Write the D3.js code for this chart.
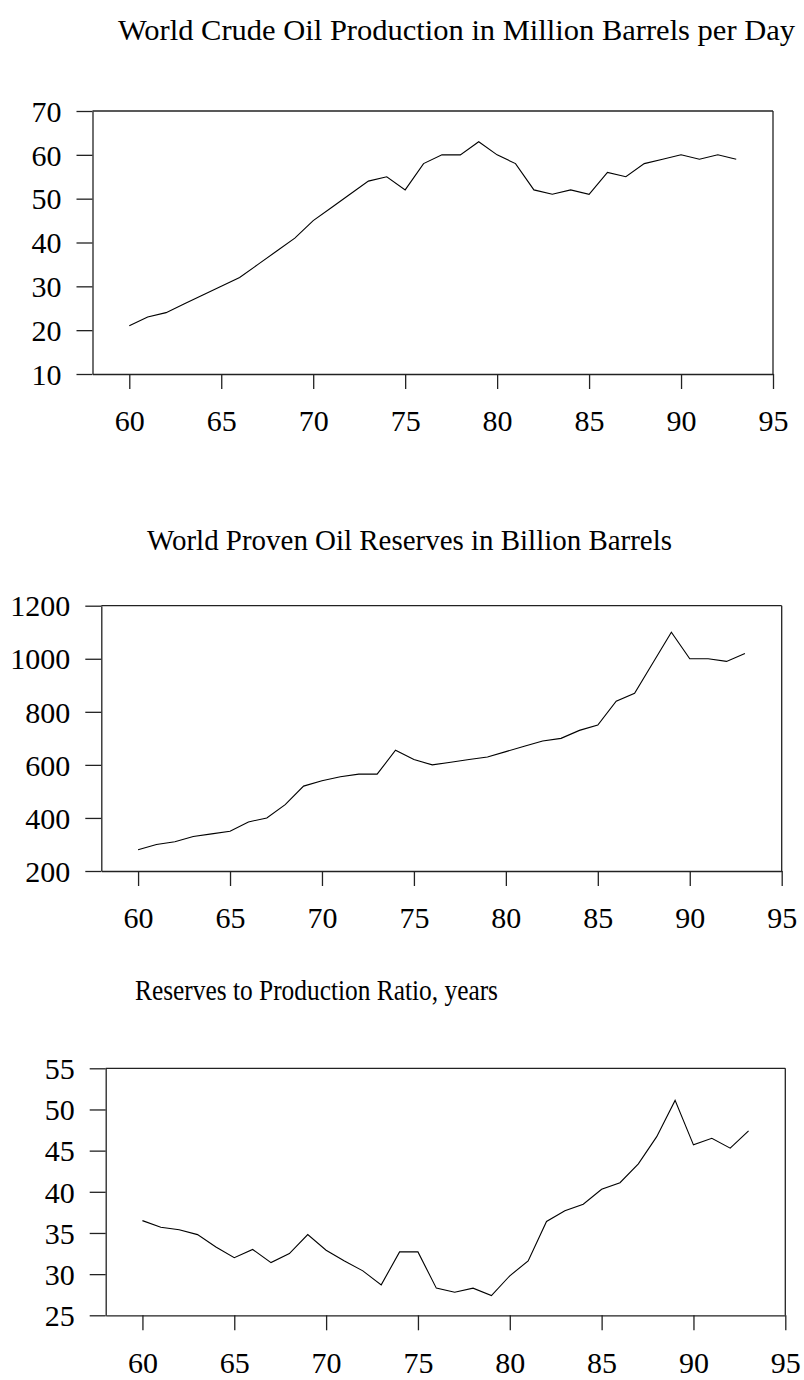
<!DOCTYPE html>
<html>
<head>
<meta charset="utf-8">
<script src="https://cdn.jsdelivr.net/npm/d3@7"></script>
<style>
  html, body { margin: 0; padding: 0; background: #fff; }
  svg { display: block; }
  text { font-family: "Liberation Serif", "Times New Roman", serif; fill: #000; }
</style>
</head>
<body>
<svg id="chart" width="804" height="1380"></svg>
<script>
// Years 1960–1993
const years = d3.range(60, 94);

// World crude oil production, million barrels per day
const production = [21, 23, 24, 26, 28, 30, 32, 35, 38, 41, 45, 48, 51, 54, 55, 52, 58, 60, 60, 63,
                    60, 58, 52, 51, 52, 51, 56, 55, 58, 59, 60, 59, 60, 59];

// World proven oil reserves, billion barrels
const reserves = [280, 300, 310, 330, 340, 350, 385, 400, 450, 520, 540, 555, 565, 565, 655, 620, 600, 610, 620, 630,
                  650, 670, 690, 700, 730, 750, 840, 870, 985, 1100, 1000, 1000, 990, 1020];

// Reserves-to-production ratio, years
const ratio = [36.5, 35.7, 35.4, 34.8, 33.3, 32.0, 33.0, 31.4, 32.5, 34.8, 32.9, 31.6, 30.4, 28.7, 32.7, 32.7, 28.3, 27.8, 28.3, 27.4,
               29.8, 31.6, 36.4, 37.7, 38.5, 40.3, 41.1, 43.4, 46.7, 51.1, 45.7, 46.5, 45.3, 47.4];

// Axis ticks
const xTicks = [60, 65, 70, 75, 80, 85, 90, 95];
const prodTicks = [10, 20, 30, 40, 50, 60, 70];
const resTicks = [200, 400, 600, 800, 1000, 1200];
const ratioTicks = [25, 30, 35, 40, 45, 50, 55];

// Titles
const titles = [
  "World Crude Oil Production in Million Barrels per Day",
  "World Proven Oil Reserves in Billion Barrels",
  "Reserves to Production Ratio, years"
];

const svg = d3.select("#chart");
const FONT = 30;

function panel(cfg) {
  const g = svg.append("g");
  const x = d3.scaleLinear().domain([58, 95]).range([cfg.left, cfg.right]);
  const y = d3.scaleLinear().domain(cfg.yDomain).range([cfg.bottom, cfg.top]);

  g.append("text")
    .attr("x", cfg.titleX).attr("y", cfg.titleY)
    .attr("font-size", 29)
    .attr("textLength", cfg.titleWidth)
    .attr("lengthAdjust", "spacingAndGlyphs")
    .text(cfg.title);

  // frame: top and right edges
  g.append("line")
    .attr("x1", cfg.left).attr("x2", cfg.right)
    .attr("y1", cfg.top).attr("y2", cfg.top)
    .attr("stroke", "#222").attr("stroke-width", 1.3);
  g.append("line")
    .attr("x1", cfg.right).attr("x2", cfg.right)
    .attr("y1", cfg.top).attr("y2", cfg.bottom)
    .attr("stroke", "#222").attr("stroke-width", 1.3);

  const yAxis = g.append("g")
    .attr("transform", `translate(${cfg.left},0)`)
    .call(d3.axisLeft(y).tickValues(cfg.yTicks).tickSize(16).tickSizeOuter(0).tickPadding(15).tickFormat(d3.format("d")));

  const xAxis = g.append("g")
    .attr("transform", `translate(0,${cfg.bottom})`)
    .call(d3.axisBottom(x).tickValues(xTicks).tickSize(15).tickSizeOuter(0).tickPadding(21).tickFormat(d3.format("d")));

  [yAxis, xAxis].forEach(a => {
    a.selectAll(".domain").attr("stroke", "#222").attr("stroke-width", 1.3);
    a.selectAll(".tick line").attr("stroke", "#222").attr("stroke-width", 1.3);
    a.selectAll(".tick text")
      .attr("font-family", "Liberation Serif, Times New Roman, serif")
      .attr("font-size", FONT).attr("fill", "#000");
  });
  yAxis.selectAll(".tick text").attr("dy", "0.34em");

  // data line
  const line = d3.line().x((d, i) => x(years[i])).y(d => y(d));
  g.append("path")
    .datum(cfg.values)
    .attr("fill", "none")
    .attr("stroke", "#000")
    .attr("stroke-width", 1.1)
    .attr("stroke-linejoin", "miter")
    .attr("d", line);
}

panel({ title: titles[0], titleX: 118, titleY: 40, titleWidth: 677,
        left: 92.5, right: 773, top: 111, bottom: 374,
        yDomain: [10, 70], yTicks: prodTicks, values: production });

panel({ title: titles[1], titleX: 147, titleY: 550, titleWidth: 525,
        left: 101.3, right: 781.7, top: 605.7, bottom: 871,
        yDomain: [200, 1200], yTicks: resTicks, values: reserves });

panel({ title: titles[2], titleX: 135, titleY: 1000, titleWidth: 363,
        left: 105.7, right: 785.3, top: 1068.3, bottom: 1315.3,
        yDomain: [25, 55], yTicks: ratioTicks, values: ratio });
</script>
</body>
</html>
